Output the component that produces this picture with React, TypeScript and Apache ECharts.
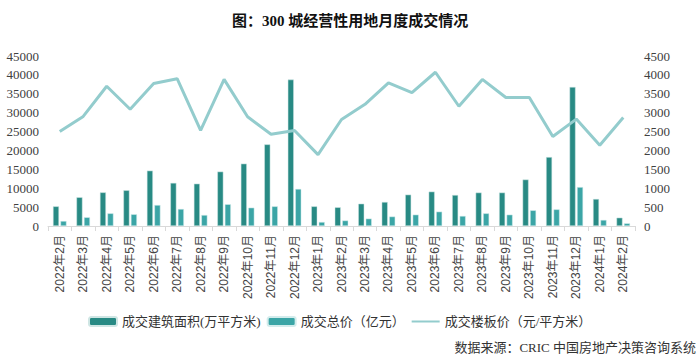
import React, { useEffect, useRef } from "react";
import * as echarts from "echarts";

const categories = [
  "2022年2月", "2022年3月", "2022年4月", "2022年5月", "2022年6月", "2022年7月",
  "2022年8月", "2022年9月", "2022年10月", "2022年11月", "2022年12月",
  "2023年1月", "2023年2月", "2023年3月", "2023年4月", "2023年5月", "2023年6月",
  "2023年7月", "2023年8月", "2023年9月", "2023年10月", "2023年11月", "2023年12月",
  "2024年1月", "2024年2月",
];

const areaValues = [
  5200, 7600, 8900, 9450, 14650, 11400, 11200, 14400, 16500, 21600, 38750,
  5200, 4950, 5900, 6350, 8300, 9100, 8200, 8850, 8850, 12300, 18250, 36800,
  7150, 2200,
];

const totalValues = [
  1300, 2300, 3350, 3100, 5550, 4500, 2900, 5750, 4850, 5200, 9800,
  1050, 1450, 1950, 2500, 3000, 3800, 2650, 3350, 3000, 4150, 4400, 10300,
  1600, 700,
];

const priceValues = [
  2500, 2900, 3700, 3090, 3770, 3900, 2530, 3880, 2890, 2430, 2530,
  1890, 2820, 3220, 3790, 3530, 4070, 3170, 3880, 3400, 3400, 2370, 2830,
  2140, 2870,
];

const leftTicks = { min: 0, max: 45000, interval: 5000 };
const rightTicks = { min: 0, max: 4500, interval: 500 };

const seriesNames = ["成交建筑面积(万平方米)", "成交总价（亿元）", "成交楼板价（元/平方米）"];

export default function App() {
  const ref = useRef<HTMLDivElement>(null);
  useEffect(() => {
    if (!ref.current) return;
    const chart = echarts.init(ref.current, undefined, { renderer: "svg" });
    const serif = "'Liberation Serif', 'Noto Sans CJK SC', serif";
    chart.setOption({
      animation: false,
      backgroundColor: "#ffffff",
      title: {
        text: "图：300 城经营性用地月度成交情况",
        left: "center",
        top: 8,
        textStyle: { fontSize: 15, fontWeight: "bold", color: "#111", fontFamily: serif },
      },
      legend: {
        left: 83,
        top: 310,
        itemWidth: 28,
        itemHeight: 9,
        itemGap: 6,
        textStyle: { fontSize: 13, color: "#333", fontFamily: serif },
        data: [
          { name: seriesNames[0] },
          { name: seriesNames[1] },
          { name: seriesNames[2], itemStyle: { opacity: 0 } },
        ],
      },
      graphic: [
        {
          type: "text",
          right: 4,
          top: 341,
          style: {
            text: "数据来源：CRIC 中国房地产决策咨询系统",
            fontSize: 13,
            fill: "#333",
            fontFamily: serif,
          },
        },
      ],
      grid: { left: 48, right: 65, top: 56, bottom: 134, containLabel: false },
      xAxis: {
        type: "category",
        data: categories,
        axisLine: { lineStyle: { color: "#d9d9d9" } },
        axisTick: { show: true, length: 5, lineStyle: { color: "#d9d9d9" } },
        axisLabel: {
          rotate: 90,
          interval: 0,
          margin: 9,
          fontSize: 12,
          color: "#444",
          fontFamily: "'Liberation Sans', 'Noto Sans CJK SC', sans-serif",
        },
      },
      yAxis: [
        {
          type: "value",
          ...leftTicks,
          splitLine: { show: false },
          axisLine: { show: false },
          axisTick: { show: false },
          axisLabel: {
            fontSize: 13,
            color: "#404040",
            margin: 9,
            fontFamily: serif,
            formatter: (v: number) => String(v),
          },
        },
        {
          type: "value",
          ...rightTicks,
          position: "right",
          splitLine: { show: false },
          axisLine: { show: false },
          axisTick: { show: false },
          axisLabel: {
            fontSize: 13,
            color: "#404040",
            margin: 9,
            fontFamily: serif,
            formatter: (v: number) => String(v),
          },
        },
      ],
      series: [
        {
          name: seriesNames[0],
          type: "bar",
          yAxisIndex: 0,
          data: areaValues,
          barWidth: 6,
          barGap: "25%",
          itemStyle: { color: "#288a84", borderColor: "#cfe6e4", borderWidth: 0.5 },
        },
        {
          name: seriesNames[1],
          type: "bar",
          yAxisIndex: 0,
          data: totalValues,
          barWidth: 6,
          itemStyle: { color: "#3ba5a6", borderColor: "#d3ecec", borderWidth: 0.5 },
        },
        {
          name: seriesNames[2],
          type: "line",
          yAxisIndex: 1,
          data: priceValues,
          symbol: "none",
          lineStyle: { color: "#93cccd", width: 3 },
          itemStyle: { color: "#93cccd" },
        },
      ],
    });
    return () => chart.dispose();
  }, []);
  return (
    <div
      ref={ref}
      style={{ position: "absolute", left: 0, top: 0, width: 700, height: 360 }}
    />
  );
}
